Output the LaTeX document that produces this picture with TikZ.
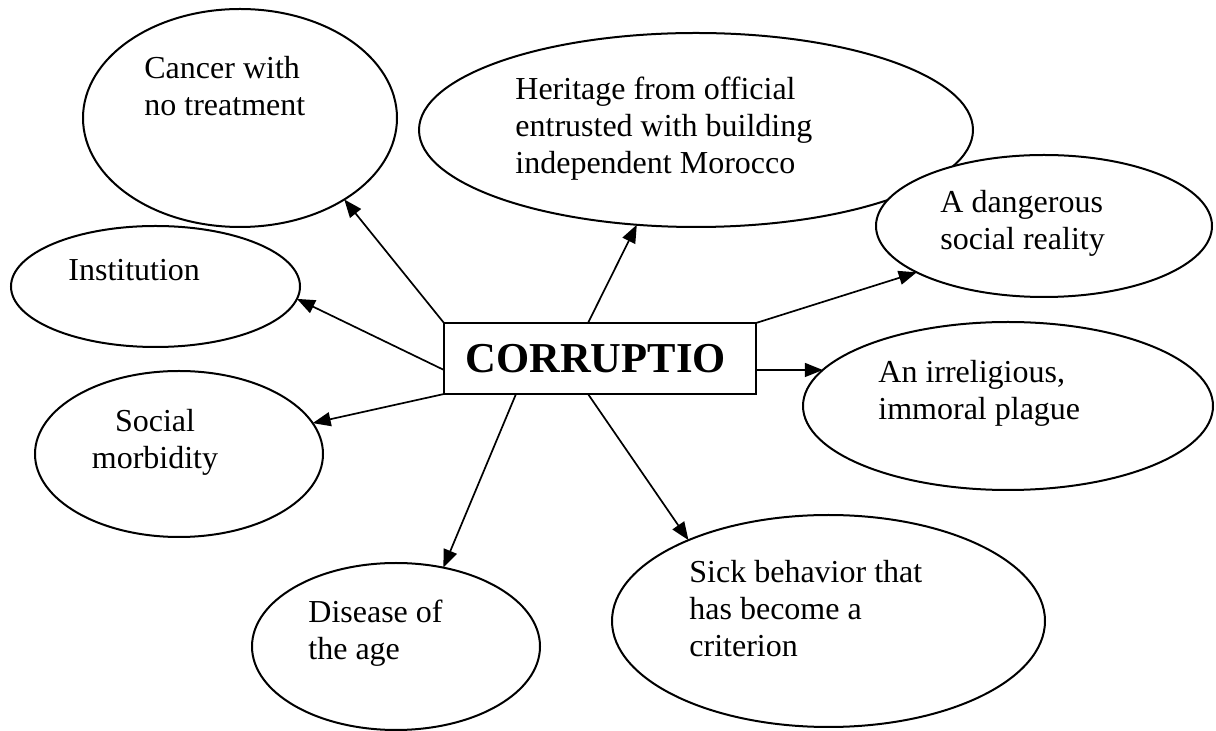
\documentclass[tikz,border=0pt]{standalone}
\usepackage{fontspec}
\setmainfont{Liberation Serif}
\usetikzlibrary{arrows.meta,shapes.geometric}
% stacked lines, baseline on the first line
\newcommand\stackleft[1]{\begin{tabular}[t]{@{}l@{}}#1\end{tabular}}
\newcommand\stackmid[1]{\begin{tabular}[t]{@{}c@{}}#1\end{tabular}}
\begin{document}
\begin{tikzpicture}[x=0.5pt,y=-0.5pt,
  bubble/.style={draw, fill=white, ellipse, line width=1pt, inner sep=0pt, outer sep=0pt},
  txt/.style={anchor=base west, inner sep=0pt, font=\fontsize{16}{18.5}\selectfont},
  hub/.style={draw, rectangle, line width=1pt, inner sep=0pt, outer sep=0pt,
    minimum width=156pt, minimum height=35.5pt},
  arrowline/.style={line width=0.85pt, -{Triangle[length=9pt,width=7pt]}}]
\useasboundingbox (0,0) rectangle (1216,731);

% ellipses (minimum size in pt = radius in px); later ones cover earlier ones
\node[bubble, minimum width=157pt, minimum height=109pt] (cancer) at (240,118) {};
\node[bubble, minimum width=277pt, minimum height=97pt] (heritage) at (696,130) {};
\node[bubble, minimum width=168pt, minimum height=71pt] (danger) at (1044,226) {};
\node[bubble, minimum width=144.5pt, minimum height=60.5pt] (institution) at (155.5,286.5) {};
\node[bubble, minimum width=205pt, minimum height=84pt] (plague) at (1008,406) {};
\node[bubble, minimum width=144pt, minimum height=83pt] (morbidity) at (179,454) {};
\node[bubble, minimum width=144pt, minimum height=83.5pt] (disease) at (396,646.5) {};
\node[bubble, minimum width=216.5pt, minimum height=106pt] (sick) at (828.5,621) {};

% texts
\node[txt] (tcancer) at (144,79) {\stackleft{Cancer with\\no treatment}};
\node[txt] (theritage) at (515,100) {\stackleft{Heritage from official\\entrusted with building\\independent Morocco}};
\node[txt] (tdanger) at (940,213) {\stackleft{A dangerous\\social reality}};
\node[txt] (tinstitution) at (68,281) {Institution};
\node[txt] (tplague) at (878,383) {\stackleft{An irreligious,\\immoral plague}};
\node[txt, anchor=base] (tmorbidity) at (155,432) {\stackmid{Social\\morbidity}};
\node[txt] (tdisease) at (308,623) {\stackleft{Disease of\\the age}};
\node[txt] (tsick) at (689,583) {\stackleft{Sick behavior that\\has become a\\criterion}};

% central box
\node[hub] (core) at (600,358.5) {};
\node[anchor=base west, inner sep=0pt, font=\fontsize{21.3}{25}\selectfont\bfseries] (tcore) at (465,373) {CORRUPTIO};

% arrows
\draw[arrowline] (core.north west) -- (cancer.-38.5);
\draw[arrowline] ([yshift=12pt]core.south west) -- (institution.-5.3);
\draw[arrowline] (core.south west) -- (morbidity.13.9);
\draw[arrowline] ([xshift=36pt]core.south west) -- (disease.59.9);
\draw[arrowline] ([xshift=72pt]core.south west) -- (sick.150);
\draw[arrowline] (core.east |- plague.169) -- (plague.169);
\draw[arrowline] (core.north east) -- (danger.-160);
\draw[arrowline] ([xshift=72pt]core.north west) -- (heritage.-122.1);
\end{tikzpicture}
\end{document}
